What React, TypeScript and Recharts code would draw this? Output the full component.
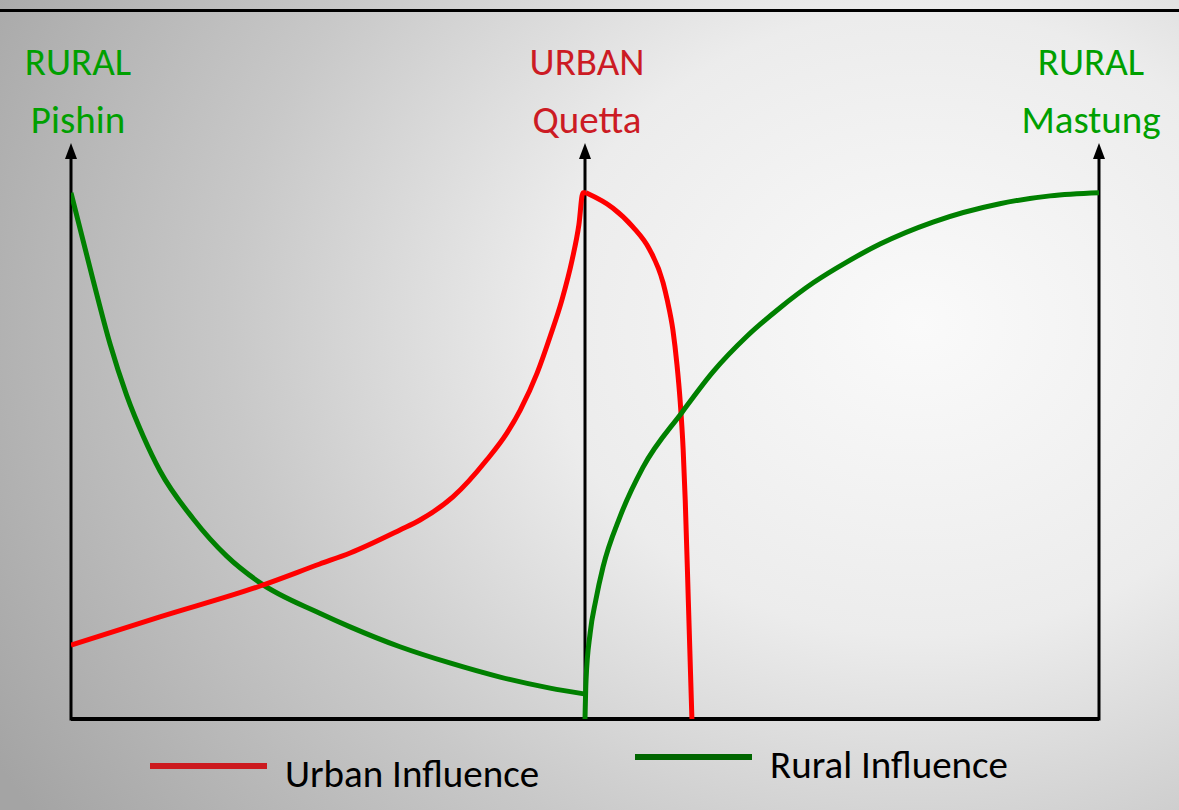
import { LineChart, Line, XAxis, YAxis, ReferenceLine } from 'recharts'

// x: 0 = Pishin, 100 = Quetta, 200 = Mastung ; y: relative influence
const pishinRural = [
  { x: 0, y: 100.5 }, { x: 4.3, y: 83.8 }, { x: 7.6, y: 71.6 }, { x: 10.8, y: 61.9 },
  { x: 14.1, y: 53.9 }, { x: 17.3, y: 47.4 }, { x: 23.8, y: 38.2 }, { x: 30.3, y: 31.1 },
  { x: 36.8, y: 26.0 }, { x: 48.4, y: 20.2 }, { x: 54.3, y: 17.6 }, { x: 64.0, y: 13.8 },
  { x: 73.7, y: 10.7 }, { x: 83.5, y: 8.0 }, { x: 93.2, y: 5.9 }, { x: 99.8, y: 4.8 },
]

// urban influence, split at the Quetta peak (towards Pishin / towards Mastung)
const quettaUrbanWest = [
  { x: 0, y: 14.1 }, { x: 17.3, y: 19.5 }, { x: 36.8, y: 25.4 }, { x: 48.4, y: 29.6 },
  { x: 54.3, y: 31.7 }, { x: 64.0, y: 36.1 }, { x: 67.9, y: 38.0 }, { x: 74.3, y: 42.4 },
  { x: 80.9, y: 49.5 }, { x: 84.8, y: 54.6 }, { x: 87.4, y: 59.0 }, { x: 90.7, y: 66.1 },
  { x: 93.2, y: 73.0 }, { x: 95.5, y: 80.0 }, { x: 97.5, y: 87.7 }, { x: 98.8, y: 94.3 },
  { x: 99.6, y: 100.5 }, { x: 100.2, y: 100.5 },
]

const quettaUrbanEast = [
  { x: 100.2, y: 100.5 }, { x: 105.4, y: 97.6 }, { x: 109.3, y: 94.0 },
  { x: 112.6, y: 89.6 }, { x: 115.2, y: 83.3 }, { x: 116.0, y: 80.0 }, { x: 117.1, y: 74.3 },
  { x: 117.9, y: 67.6 }, { x: 118.5, y: 60.9 }, { x: 119.1, y: 51.4 }, { x: 119.5, y: 41.8 },
  { x: 120.1, y: 22.7 }, { x: 120.8, y: 0 },
]

const mastungRural = [
  { x: 100, y: 0 }, { x: 100.2, y: 7.4 }, { x: 101.0, y: 16.4 }, { x: 102.1, y: 22.7 },
  { x: 103.5, y: 29.0 }, { x: 106.8, y: 38.6 }, { x: 111.3, y: 48.1 }, { x: 118.9, y: 58.6 },
  { x: 124.9, y: 66.3 }, { x: 131.5, y: 73.1 }, { x: 137.9, y: 78.5 }, { x: 144.4, y: 83.3 },
  { x: 151.0, y: 87.3 }, { x: 157.4, y: 90.7 }, { x: 167.7, y: 94.9 }, { x: 180.7, y: 98.4 },
  { x: 190.5, y: 99.9 }, { x: 200, y: 100.5 },
]

const places = [
  { x: 0, zone: 'RURAL', name: 'Pishin', color: '#00a000', dx: 7 },
  { x: 100, zone: 'URBAN', name: 'Quetta', color: '#cc1b24', dx: 2 },
  { x: 200, zone: 'RURAL', name: 'Mastung', color: '#00a000', dx: -8 },
]

const legendItems = [
  { label: 'Urban Influence', color: '#cc1a1f', left: 150, top: 763, textShift: 8 },
  { label: 'Rural Influence', color: '#006600', left: 635, top: 754, textShift: 8 },
]

const FONT = "Carlito, 'Liberation Sans Narrow', Lato, sans-serif"

function axisWithArrow(place: typeof places[number]) {
  return (props: any) => {
    const { x1, y1, x2, y2 } = props
    return (
      <g>
        <line x1={x1} y1={y1 + 1.5} x2={x2} y2={y2 + 12} stroke="#000" strokeWidth={3} />
        <polygon points={`${x2},${y2} ${x2 - 6},${y2 + 16} ${x2 + 6},${y2 + 16}`} fill="#000" />
        <text x={x2 + place.dx} y={75} textAnchor="middle" fill={place.color}
          fontSize={39} fontFamily={FONT}>{place.zone}</text>
        <text x={x2 + place.dx} y={133} textAnchor="middle" fill={place.color}
          fontSize={39} fontFamily={FONT}>{place.name}</text>
      </g>
    )
  }
}

export default function App() {
  return (
    <div style={{
      position: 'relative', width: 1179, height: 810, overflow: 'hidden',
      background: 'radial-gradient(ellipse 90% 110% at 78% 40%, #fafafa 0%, #ececec 35%, #c8c8c8 65%, #a4a4a4 100%)',
    }}>
      <style>{'body{margin:0}'}</style>
      <div style={{ position: 'absolute', left: 0, top: 9, width: 1179, height: 3, background: '#000' }} />
      <LineChart width={1179} height={810} margin={{ top: 143, right: 80, left: 71, bottom: 91 }}>
        <XAxis type="number" dataKey="x" domain={[0, 200]} hide allowDataOverflow />
        <YAxis type="number" domain={[0, 110]} hide allowDataOverflow />
        <ReferenceLine y={0} stroke="#000" strokeWidth={4} />
        {places.map(p => (
          <ReferenceLine key={p.name}
            segment={[{ x: p.x, y: 0 }, { x: p.x, y: 110 }]}
            shape={axisWithArrow(p)} />
        ))}
        <Line data={pishinRural} dataKey="y" type="monotone" stroke="#008000" strokeWidth={5}
          dot={false} isAnimationActive={false} />
        <Line data={quettaUrbanWest} dataKey="y" type="monotone" stroke="#ff0000" strokeWidth={5}
          dot={false} isAnimationActive={false} />
        <Line data={quettaUrbanEast} dataKey="y" type="monotone" stroke="#ff0000" strokeWidth={5}
          dot={false} isAnimationActive={false} />
        <Line data={mastungRural} dataKey="y" type="monotone" stroke="#008000" strokeWidth={5}
          dot={false} isAnimationActive={false} />
      </LineChart>
      {legendItems.map(item => (
        <div key={item.label} style={{ position: 'absolute', left: item.left, top: item.top - 22, display: 'flex', alignItems: 'center' }}>
          <div style={{ width: 117, height: 6, background: item.color, marginRight: 18 }} />
          <span style={{ fontFamily: FONT, fontSize: 39, color: '#000', lineHeight: '50px', position: 'relative', top: item.textShift }}>{item.label}</span>
        </div>
      ))}
    </div>
  )
}
